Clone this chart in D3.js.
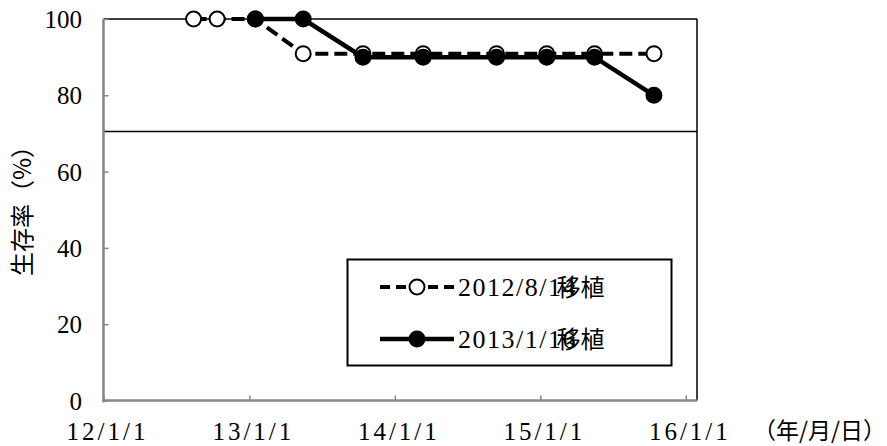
<!DOCTYPE html>
<html>
<head>
<meta charset="utf-8">
<script src="https://cdn.jsdelivr.net/npm/d3@7"></script>
</head>
<body style="margin:0">
<div id="chart"></div>
<script>
// data
const dates1 = ["2012-08-14","2012-10-12","2013-01-16","2013-05-16","2013-10-13","2014-03-13","2014-09-13","2015-01-17","2015-05-17","2015-10-13"];
const values1 = [100, 100, 100, 90.9, 90.9, 90.9, 90.9, 90.9, 90.9, 90.9];
const dates2 = ["2013-01-16","2013-05-16","2013-10-13","2014-03-13","2014-09-13","2015-01-17","2015-05-17","2015-10-13"];
const values2 = [100, 100, 90, 90, 90, 90, 90, 80];
const seriesDates = ["2012/8/14", "2013/1/16"];
const seriesSuffix = "移植";
const xTickDates = ["2012-01-01","2013-01-01","2014-01-01","2015-01-01","2016-01-01"];
const xTickLabels = ["12/1/1","13/1/1","14/1/1","15/1/1","16/1/1"];
const yTicks = [0, 20, 40, 60, 80, 100];
const refLine = 70.5;
const yTitle = "生存率（%）";
const xUnit = "（年/月/日）";

const width = 887, height = 446;
const parse = d3.timeParse("%Y-%m-%d");

const svg = d3.select("#chart").append("svg")
    .attr("width", width)
    .attr("height", height);

const x = d3.scaleTime()
    .domain([parse("2012-01-01"), parse("2016-01-29")])
    .range([103.5, 697]);
const y = d3.scaleLinear().domain([0, 100]).range([400.5, 19]);

const gray = "#878787";

// plot area frame (black) and reference line
svg.append("line").attr("x1", x.range()[0]).attr("x2", x.range()[1])
    .attr("y1", y(100)).attr("y2", y(100)).attr("stroke", "#000").attr("stroke-width", 1.5);
svg.append("line").attr("x1", x.range()[1]).attr("x2", x.range()[1])
    .attr("y1", y(100)).attr("y2", y(0)).attr("stroke", "#000").attr("stroke-width", 1.5);
svg.append("line").attr("x1", x.range()[0]).attr("x2", x.range()[1])
    .attr("y1", y(refLine)).attr("y2", y(refLine)).attr("stroke", "#000").attr("stroke-width", 1.5);

// y axis
const yAxis = svg.append("g")
    .attr("transform", `translate(${x.range()[0]},0)`)
    .call(d3.axisRight(y).tickValues(yTicks).tickSize(5).tickFormat(""));
yAxis.select(".domain").remove();
yAxis.selectAll("line").attr("stroke", gray).attr("stroke-width", 1.5);
svg.append("line").attr("x1", x.range()[0]).attr("x2", x.range()[0])
    .attr("y1", y(100)).attr("y2", y(0) + 2).attr("stroke", gray).attr("stroke-width", 2.5);

svg.selectAll("text.ylab").data(yTicks).join("text")
    .attr("class", "ylab")
    .attr("x", 82)
    .attr("y", d => y(d) + 9)
    .attr("text-anchor", "end")
    .style("font-family", "\"Liberation Serif\"")
    .style("font-size", "25px")
    .text(d => d);

// x axis
const xAxis = svg.append("g")
    .attr("transform", `translate(0,${y(0)})`)
    .call(d3.axisTop(x).tickValues(xTickDates.map(parse)).tickSize(5).tickFormat(""));
xAxis.select(".domain").remove();
xAxis.selectAll("line").attr("stroke", gray).attr("stroke-width", 1.5);
svg.append("line").attr("x1", x.range()[0] - 1).attr("x2", x.range()[1])
    .attr("y1", y(0)).attr("y2", y(0)).attr("stroke", gray).attr("stroke-width", 2.5);

svg.selectAll("text.xlab").data(xTickDates).join("text")
    .attr("class", "xlab")
    .attr("x", d => x(parse(d)) + 4)
    .attr("y", 440)
    .attr("text-anchor", "middle")
    .style("font-family", "\"Liberation Serif\"")
    .style("font-size", "25px")
    .style("letter-spacing", "3px")
    .text((d, i) => xTickLabels[i]);

svg.append("text")
    .attr("x", 886)
    .attr("y", 439)
    .attr("text-anchor", "end")
    .style("font-family", "\"Noto Sans CJK JP\"")
    .style("font-size", "23px")
    .text(xUnit);

svg.append("text")
    .attr("transform", "translate(31,205) rotate(-90)")
    .attr("text-anchor", "middle")
    .style("font-family", "\"Noto Sans CJK JP\"")
    .style("font-size", "24px")
    .text(yTitle);

// series
const data1 = dates1.map((d, i) => ({ date: parse(d), v: values1[i] }));
const data2 = dates2.map((d, i) => ({ date: parse(d), v: values2[i] }));
const line = d3.line().x(d => x(d.date)).y(d => y(d.v));

function drawSeries(data, dashed, filled) {
  svg.append("path")
      .datum(data)
      .attr("d", line)
      .attr("fill", "none")
      .attr("stroke", "#000")
      .attr("stroke-width", dashed ? 4 : 4.5)
      .attr("stroke-dasharray", dashed ? "13,6" : null);
  svg.append("g").selectAll("circle").data(data).join("circle")
      .attr("cx", d => x(d.date))
      .attr("cy", d => y(d.v))
      .attr("r", 7.5)
      .attr("fill", filled ? "#000" : "#fff")
      .attr("stroke", "#000")
      .attr("stroke-width", 2);
}
drawSeries(data1, true, false);
drawSeries(data2, false, true);

// legend
svg.append("rect")
    .attr("x", 347.5).attr("y", 259.5)
    .attr("width", 324).attr("height", 106)
    .attr("fill", "#fff").attr("stroke", "#000").attr("stroke-width", 2);
const rows = [
  { name: seriesDates[0], dashed: true, filled: false, y: 287 },
  { name: seriesDates[1], dashed: false, filled: true, y: 339 }
];
rows.forEach(r => {
  svg.append("line")
      .attr("x1", 380).attr("x2", 454)
      .attr("y1", r.y).attr("y2", r.y)
      .attr("stroke", "#000")
      .attr("stroke-width", r.dashed ? 4 : 4.5)
      .attr("stroke-dasharray", r.dashed ? "10,6" : null);
  svg.append("circle")
      .attr("cx", 417).attr("cy", r.y).attr("r", 7.5)
      .attr("fill", r.filled ? "#000" : "#fff")
      .attr("stroke", "#000").attr("stroke-width", 2);
  svg.append("text")
      .attr("x", 458).attr("y", r.y + 9)
      .style("font-family", "\"Liberation Serif\"")
      .style("font-size", "26px")
      .style("letter-spacing", "1.5px")
      .text(r.name);
  svg.append("text")
      .attr("x", 458 + 9.4 * r.name.length + 14)
      .attr("y", r.y + 9)
      .style("font-family", "\"Noto Sans CJK JP\"")
      .style("font-size", "24px")
      .text(seriesSuffix);
});
</script>
</body>
</html>
